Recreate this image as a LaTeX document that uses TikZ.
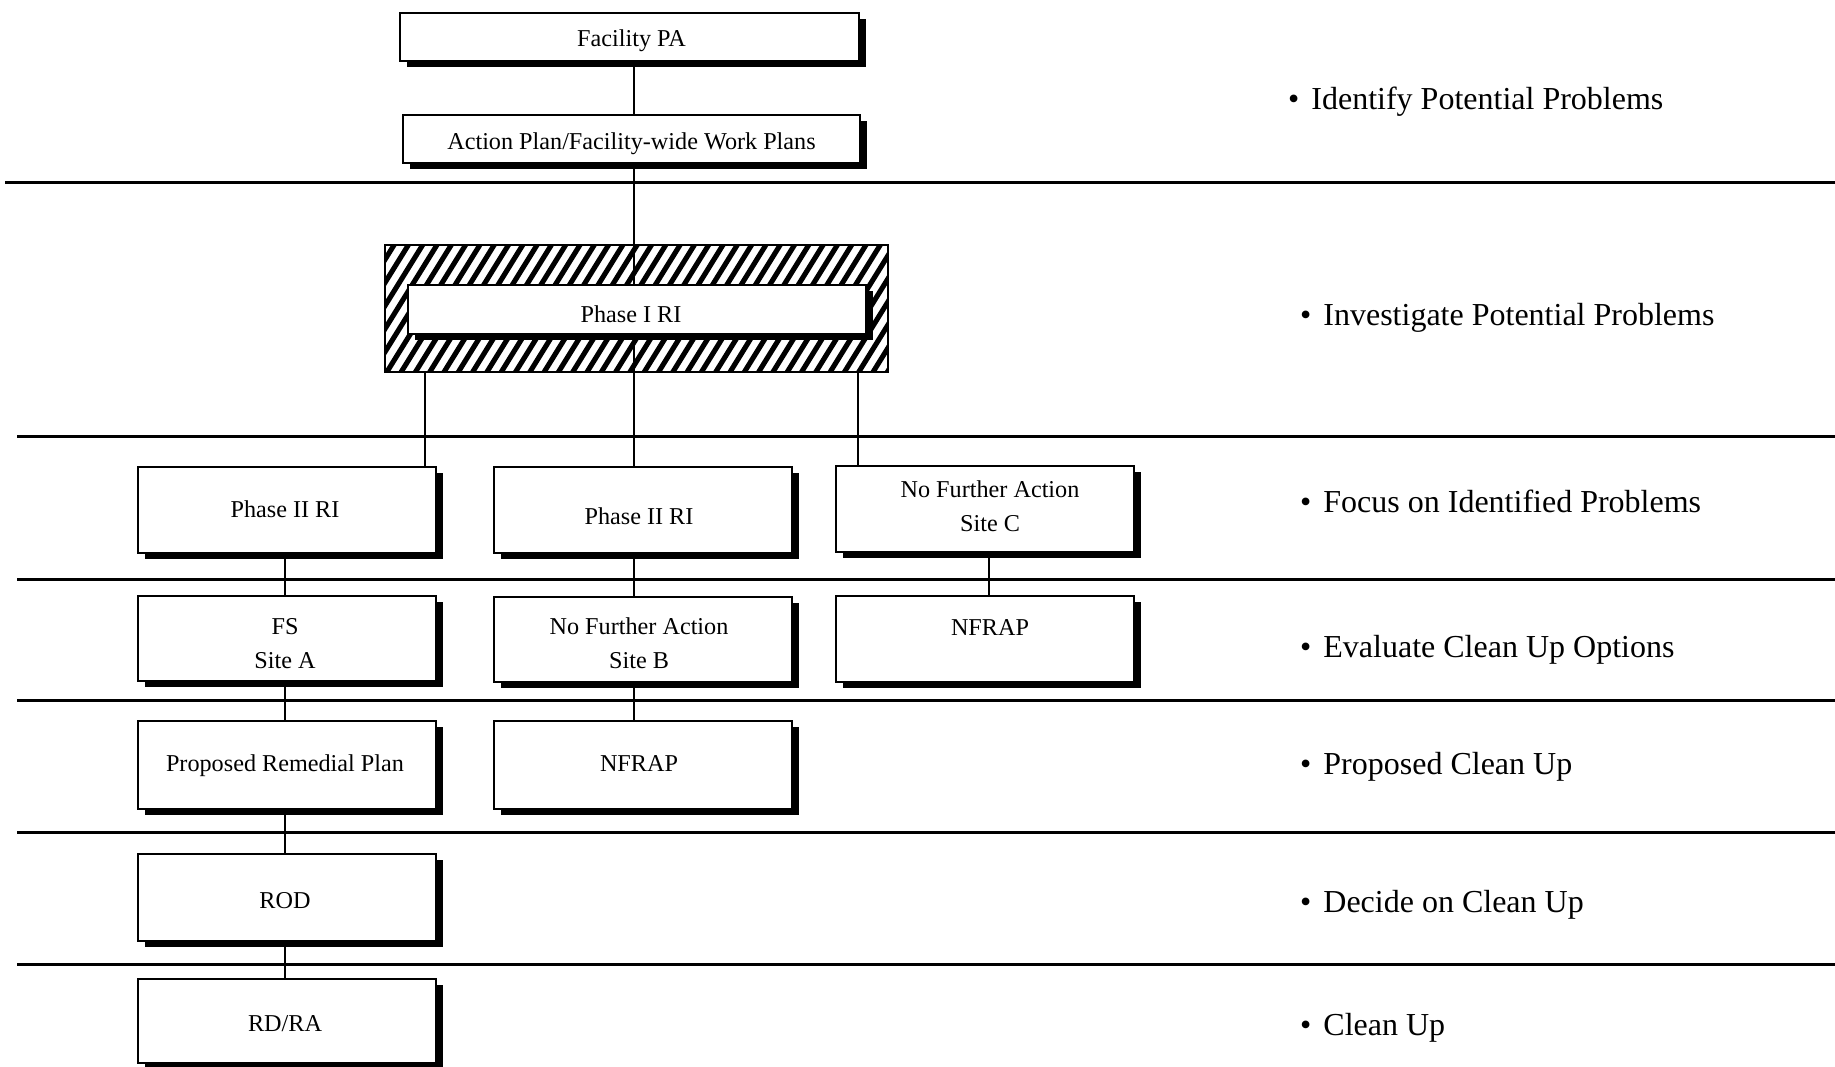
\documentclass[tikz,border=0pt]{standalone}
\usepackage{fontspec}
\setmainfont{Liberation Serif}
\usetikzlibrary{shadows}
% shift a line of text: right by #1 pt, down by #2 pt, keeping its size
\newcommand\mvtext[3]{\raisebox{-#2pt}[\height][\depth]{\kern#1pt\relax#3\kern-#1pt\relax}}
\begin{document}
\begin{tikzpicture}[x=1pt,y=-1pt,
  box/.style={draw, line width=2.5pt, fill=white, inner sep=0pt, outer sep=0pt, align=center,
    font=\fontsize{24.2}{34.5}\selectfont,
    drop shadow={shadow xshift=7pt, shadow yshift=-6pt, fill=black, opacity=1}},
  wbox/.style={box, minimum width=298pt, minimum height=86pt},
  conn/.style={line width=2.5pt},
  sep/.style={line width=3pt},
  lab/.style={anchor=base west, inner sep=0pt, font=\fontsize{32}{38}\selectfont}]

\fill[white] (0,0) rectangle (1835,1067);
\useasboundingbox (0,0) rectangle (1835,1067);

% separators
\draw[sep] (5,183) -- (1835,183);
\draw[sep] (17,436) -- (1835,436);
\draw[sep] (17,579) -- (1835,579);
\draw[sep] (17,700) -- (1835,700);
\draw[sep] (17,832) -- (1835,832);
\draw[sep] (17,964) -- (1835,964);

% x positions of connectors
\coordinate (cx) at (634,0);
\coordinate (xl) at (425,0);
\coordinate (xr) at (858,0);
\coordinate (xa) at (285,0);
\coordinate (xc) at (989,0);

% top boxes
\node[box, minimum width=459pt, minimum height=48pt] (fpa) at (629.5,37) {\mvtext{2}{3.5}{Facility PA}};
\node[box, minimum width=457pt, minimum height=48pt] (ap) at (631.5,139) {\mvtext{0}{4.5}{Action Plan/Facility-wide Work Plans}};
\draw[conn] (fpa.south -| cx) -- (ap.north -| cx);

% hatched frame
\node[draw=none, inner sep=0pt, outer sep=0pt, minimum width=503pt, minimum height=127pt] (hatch) at (636.5,308.5) {};
\begin{scope}
  \clip (hatch.south west) rectangle (hatch.north east);
  \foreach \i in {-8,...,38} {
    \draw[line width=5.1pt] (385+\i*14.3,375) -- ++(83,-134);
  }
\end{scope}
\draw[line width=2.5pt, fill=none] (hatch.south west) rectangle (hatch.north east);

% row boxes
\node[wbox] (a1) at (287,510) {\mvtext{-2}{-1}{Phase II RI}};
\node[wbox] (b1) at (643,510) {\mvtext{-4}{6}{Phase II RI}};
\node[wbox] (c1) at (985,509) {\mvtext{5}{-3}{No Further Action}\\\mvtext{5}{-3}{Site C}};

\node[wbox, minimum height=85pt] (a2) at (287,638.5) {\mvtext{-2}{5}{FS}\\\mvtext{-2}{5}{Site A}};
\node[wbox, minimum height=85pt] (b2) at (643,639.5) {\mvtext{-4}{3.5}{No Further Action}\\\mvtext{-4}{3.5}{Site B}};
\node[wbox, minimum height=86pt] (c2) at (985,639) {\mvtext{5}{5.5}{NFRAP}\\\phantom{Site}};

\node[wbox, minimum height=88pt] (a3) at (287,765) {\mvtext{-2}{1}{Proposed Remedial Plan}};
\node[wbox, minimum height=88pt] (b3) at (643,765) {\mvtext{-4}{-1}{NFRAP}};

\node[wbox, minimum height=87pt] (a4) at (287,897.5) {\mvtext{-2}{3.5}{ROD}};
\node[wbox, minimum height=84pt] (a5) at (287,1021) {\mvtext{-2}{2.5}{RD/RA}};

% connectors
\draw[conn] (ap.south -| cx) -- (b1.north -| cx);
\draw[conn] (hatch.south -| xl) -- (a1.north -| xl);
\draw[conn] (hatch.south -| xr) -- (c1.north -| xr);
\draw[conn] (a1.south -| xa) -- (a2.north -| xa);
\draw[conn] (a2.south -| xa) -- (a3.north -| xa);
\draw[conn] (a3.south -| xa) -- (a4.north -| xa);
\draw[conn] (a4.south -| xa) -- (a5.north -| xa);
\draw[conn] (b1.south -| cx) -- (b2.north -| cx);
\draw[conn] (b2.south -| cx) -- (b3.north -| cx);
\draw[conn] (c1.south -| xc) -- (c2.north -| xc);

% Phase I RI inner box (on top of the central line)
\node[box, minimum width=458pt, minimum height=49pt] (p1) at (637,309.5) {\mvtext{-6}{4.5}{Phase I RI}};

% right-side labels
\node[lab] (l1) at (1288,110) {•\hspace{12pt}Identify Potential Problems};
\node[lab] (l2) at (1300,325) {•\hspace{12pt}Investigate Potential Problems};
\node[lab] (l3) at (1300,512) {•\hspace{12pt}Focus on Identified Problems};
\node[lab] (l4) at (1300,657) {•\hspace{12pt}Evaluate Clean Up Options};
\node[lab] (l5) at (1300,774) {•\hspace{12pt}Proposed Clean Up};
\node[lab] (l6) at (1300,912) {•\hspace{12pt}Decide on Clean Up};
\node[lab] (l7) at (1300,1035) {•\hspace{12pt}Clean Up};
\end{tikzpicture}
\end{document}
